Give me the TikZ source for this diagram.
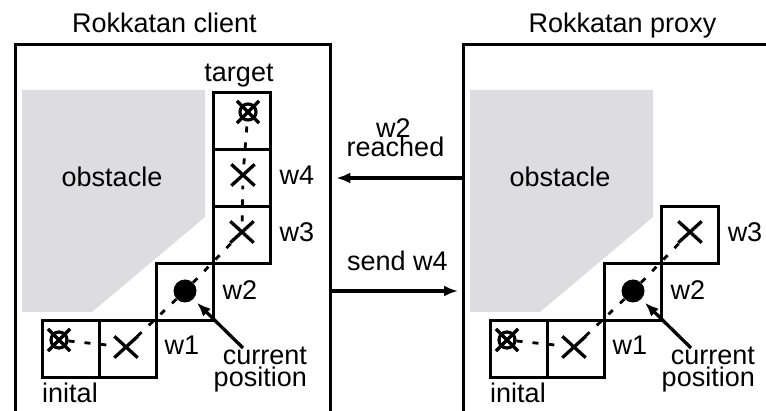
\documentclass[tikz,border=0pt]{standalone}
\usepackage{fontspec}
\setmainfont{Liberation Sans}
\usetikzlibrary{arrows.meta,shapes.misc}

\definecolor{obstaclegray}{RGB}{221,221,223}

% Common content of one grid view: obstacle, four cells, markers, route, labels
\newcommand\gridview{%
  \fill[obstaclegray] (22,90) -- (205,90) -- (205,217) -- (92,312) -- (22,312) -- cycle;
  \node[lbl] (obst) at (112,187) {obstacle};
  \node[cell] (c0) at (71,349) {};
  \node[cell] (c1) at (128,349) {};
  \node[cell] (c2) at (185,292) {};
  \node[cell] (c3) at (242,235) {};
  \node[omark] (m0) at (59,340) {};
  \node[ocross] (m0x) at (m0) {};
  \node[xmark] (m1) at (126,347) {};
  \node[dotmark] (m2) at (185,291) {};
  \node[xmark] (m3) at (242,232) {};
  \draw[route] (m0) -- (m1) -- (m2) -- (m3);
  \node[lbl] (lw1) at (182,355) {w1};
  \node[lbl] (lw2) at (240,300) {w2};
  \node[lbl] (lw3) at (297,242) {w3};
  \node[lbl] (linit) at (70,403) {inital};
  \node[anchor=base east] (cur) at (307,365) {current};
  \node[anchor=base east] (pos) at (307,387) {position};
  \coordinate (tail) at (243,348);
  \draw[arr, shorten >=5pt] (tail) -- (m2);
}

\begin{document}
\begin{tikzpicture}[x=1pt,y=-1pt,
  every node/.style={font=\fontsize{27}{21}\selectfont, inner sep=0pt},
  frame/.style={draw, line width=3.3pt, anchor=north west},
  cell/.style={draw, line width=3.6pt, minimum size=57pt},
  lbl/.style={anchor=base},
  xmark/.style={cross out, draw, line width=3.3pt, minimum width=20pt, minimum height=18pt},
  omark/.style={circle, draw, line width=3.2pt, minimum size=16pt},
  ocross/.style={cross out, draw, line width=3.2pt, minimum size=19pt},
  dotmark/.style={circle, fill, minimum size=23pt},
  route/.style={line width=2.8pt, dash pattern=on 6pt off 10pt},
  arr/.style={line width=3.3pt, -{Latex[length=14pt,width=11pt]}}]

\useasboundingbox (0,0) rectangle (766,411);

% the two program views
\node[frame, minimum width=315pt, minimum height=420pt] (client) at (14,43) {};
\node[frame, minimum width=360pt, minimum height=420pt] (proxy) at (462,43) {};
\node[lbl] (tclient) at (164.5,33) {Rokkatan client};
\node[lbl] (tproxy) at (622.5,33) {Rokkatan proxy};

\begin{scope}[name prefix=L-]
  \gridview
  \node[cell] (c4) at (242,178) {};
  \node[cell] (c5) at (242,121) {};
  \node[xmark] (m4) at (243,175) {};
  \node[omark] (m5) at (248,112) {};
  \node[ocross] (m5x) at (m5) {};
  \draw[route] (m3) -- (m4) -- (m5);
  \node[lbl] (lw4) at (297,185) {w4};
  \node[lbl] (ltarget) at (239,82) {target};
\end{scope}

\begin{scope}[xshift=448pt, name prefix=R-]
  \gridview
\end{scope}

% messages between client and proxy
\draw[arr, shorten >=4pt] (proxy.west |- 0,178) -- (client.east |- 0,178);
\draw[arr, shorten >=4pt] (client.east |- 0,291) -- (proxy.west |- 0,291);
\node[lbl] (mw2) at (393.5,138) {w2};
\node[lbl] (mreached) at (395.5,157) {reached};
\node[lbl] (msend) at (397.5,271) {send w4};

\end{tikzpicture}
\end{document}
